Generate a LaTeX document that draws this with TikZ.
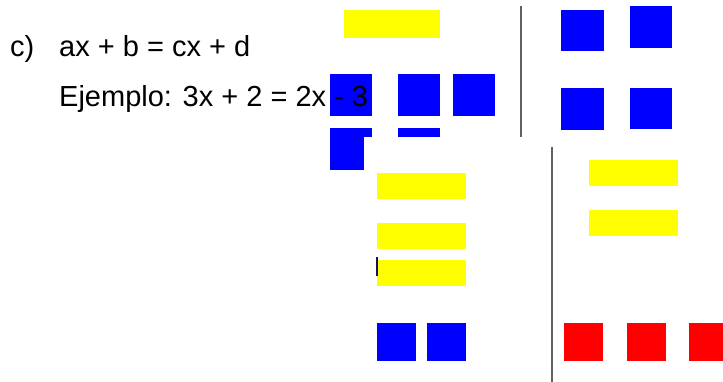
\documentclass[tikz,border=0pt]{standalone}
\usepackage{fontspec}
\setmainfont{Liberation Sans}
\definecolor{xyellow}{RGB}{255,255,0}
\definecolor{ublue}{RGB}{0,0,255}
\definecolor{ured}{RGB}{255,0,0}
\definecolor{cursor}{RGB}{20,20,90}
\begin{document}
\begin{tikzpicture}[x=1pt,y=-1pt,
  tile/.style={rectangle, inner sep=0pt, outer sep=0pt, draw=none},
  bigunit/.style={tile, fill=ublue, minimum width=42pt, minimum height=42pt},
  unit/.style={tile, minimum width=39pt, minimum height=38pt},
  bigbar/.style={tile, fill=xyellow, minimum width=96pt, minimum height=28pt},
  bar/.style={tile, fill=xyellow, minimum width=89pt, minimum height=26pt},
  label/.style={anchor=base west, inner sep=0pt, font=\fontsize{29}{34}\selectfont},
  divider/.style={draw=black!62, line width=1.1pt}]
\useasboundingbox (0,0) rectangle (723,382);
\clip (0,0) rectangle (723,382);

% upper board
\node[bigbar] (xtop) at (392,24) {};
\node[bigunit] (ua) at (351,95) {};
\node[bigunit] (ub) at (419,95) {};
\node[bigunit] (uc) at (474,95) {};
\node[bigunit] (ud) at (351,149) {};
\node[bigunit] (ue) at (419,149) {};
\node[bigunit, minimum width=43pt, minimum height=41pt] (uf) at (582.5,30.5) {};
\node[bigunit] (ug) at (651,27) {};
\node[bigunit, minimum width=43pt] (uh) at (582.5,109) {};
\node[bigunit, minimum height=41pt] (ui) at (651,108.5) {};
\coordinate (sepa) at (521,6);
\coordinate (sepb) at (521,140);
\draw[divider] (sepa) -- (sepb);

\node[label] (part) at (10,57) {c)};
\node[label] (rule) at (59,57) {ax + b = cx + d};
\node[label] (example) at (59,107) {Ejemplo: 3x + 2 = 2x - 3};

% lower board
\fill[white] (364,137) rectangle (723,382);
\node[bar] (xa) at (421.5,186) {};
\node[bar] (xb) at (421.5,236) {};
\node[bar] (xc) at (421.5,273) {};
\node[tile, fill=cursor, minimum width=2pt, minimum height=19pt] (mark) at (377,266.5) {};
\node[unit, fill=ublue] (va) at (396.5,342) {};
\node[unit, fill=ublue] (vb) at (446.5,342) {};
\coordinate (sepc) at (552,147);
\coordinate (sepd) at (552,382);
\draw[divider] (sepc) -- (sepd);
\node[bar] (xd) at (633.5,173) {};
\node[bar] (xe) at (633.5,223) {};
\node[unit, fill=ured] (ra) at (583.5,342) {};
\node[unit, fill=ured] (rb) at (646,342) {};
\node[unit, fill=ured] (rc) at (708.5,342) {};
\end{tikzpicture}
\end{document}
